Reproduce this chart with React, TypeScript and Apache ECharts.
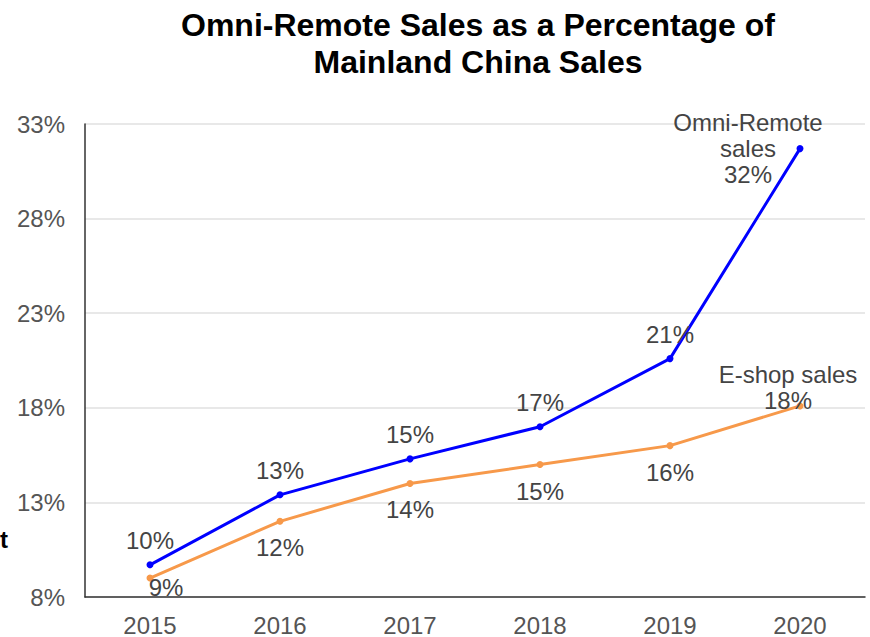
import React, { useEffect, useRef } from "react";
import * as echarts from "echarts";

const years = ["2015", "2016", "2017", "2018", "2019", "2020"];
const omniRemote = [9.7, 13.4, 15.3, 17.0, 20.6, 31.7];
const eShop = [9.0, 12.0, 14.0, 15.0, 16.0, 18.1];
const omniName = "Omni-Remote\nsales";
const eShopName = "E-shop sales";
const yMin = 8;
const yMax = 33;
const yStep = 5;

const FONT = "Liberation Sans, Arial, sans-serif";
const LABEL_COLOR = "#444";

export default function App() {
  const ref = useRef<HTMLDivElement>(null);
  useEffect(() => {
    document.body.style.margin = "0";
    if (!ref.current) return;
    const chart = echarts.init(ref.current, undefined, { renderer: "svg" });
    const last = years.length - 1;
    const fmt = (name: string) => (p: any) =>
      p.dataIndex === last ? `${name}\n${Math.round(p.value)}%` : `${Math.round(p.value)}%`;

    const omniData = omniRemote.map((v, i) =>
      i === last
        ? { value: v, label: { position: "inside", offset: [-52, 0], lineHeight: 26 } }
        : v
    );
    const eShopData = eShop.map((v, i) =>
      i === last
        ? { value: v, label: { position: "inside", offset: [-12, -18], lineHeight: 26 } }
        : i === 0
        ? { value: v, label: { position: "inside", offset: [16, 9] } }
        : v
    );

    chart.setOption({
      animation: false,
      textStyle: { fontFamily: FONT },
      title: {
        text: "Omni-Remote Sales as a Percentage of\nMainland China Sales",
        left: 473,
        textAlign: "center",
        top: 1,
        textStyle: {
          fontFamily: FONT,
          fontSize: 32,
          fontWeight: "bold",
          color: "#000",
          lineHeight: 37,
        },
      },
      graphic: [
        {
          type: "text",
          left: 0,
          top: 527,
          style: { text: "t", font: `bold 24px ${FONT}`, fill: "#000" },
        },
      ],
      grid: { left: 85, right: 5, top: 124, bottom: 37 },
      xAxis: {
        type: "category",
        data: years,
        boundaryGap: true,
        axisLine: { show: true, lineStyle: { color: "#333", width: 1.5 } },
        axisTick: { show: false },
        axisLabel: { color: "#555", fontSize: 24, margin: 16, fontFamily: FONT },
      },
      yAxis: {
        type: "value",
        min: yMin,
        max: yMax,
        interval: yStep,
        axisLine: { show: true, lineStyle: { color: "#333", width: 1.5 } },
        axisTick: { show: false },
        axisLabel: { color: "#555", fontSize: 24, margin: 20, formatter: "{value}%", fontFamily: FONT },
        splitLine: { show: true, lineStyle: { color: "#e0e0e0", width: 1.5 } },
      },
      series: [
        {
          name: "Omni-Remote sales",
          type: "line",
          data: omniData,
          symbol: "circle",
          symbolSize: 7,
          lineStyle: { color: "#0000ff", width: 3 },
          itemStyle: { color: "#0000ff" },
          label: {
            show: true,
            position: "top",
            distance: 9,
            fontSize: 24,
            color: LABEL_COLOR,
            fontFamily: FONT,
            formatter: fmt(omniName),
          },
          z: 3,
        },
        {
          name: "E-shop sales",
          type: "line",
          data: eShopData,
          symbol: "circle",
          symbolSize: 7,
          lineStyle: { color: "#f7994a", width: 3 },
          itemStyle: { color: "#f7994a" },
          label: {
            show: true,
            position: "bottom",
            distance: 11,
            fontSize: 24,
            color: LABEL_COLOR,
            fontFamily: FONT,
            formatter: fmt(eShopName),
          },
          z: 2,
        },
      ],
    });
    return () => chart.dispose();
  }, []);
  return <div ref={ref} style={{ width: 870, height: 637 }} />;
}
